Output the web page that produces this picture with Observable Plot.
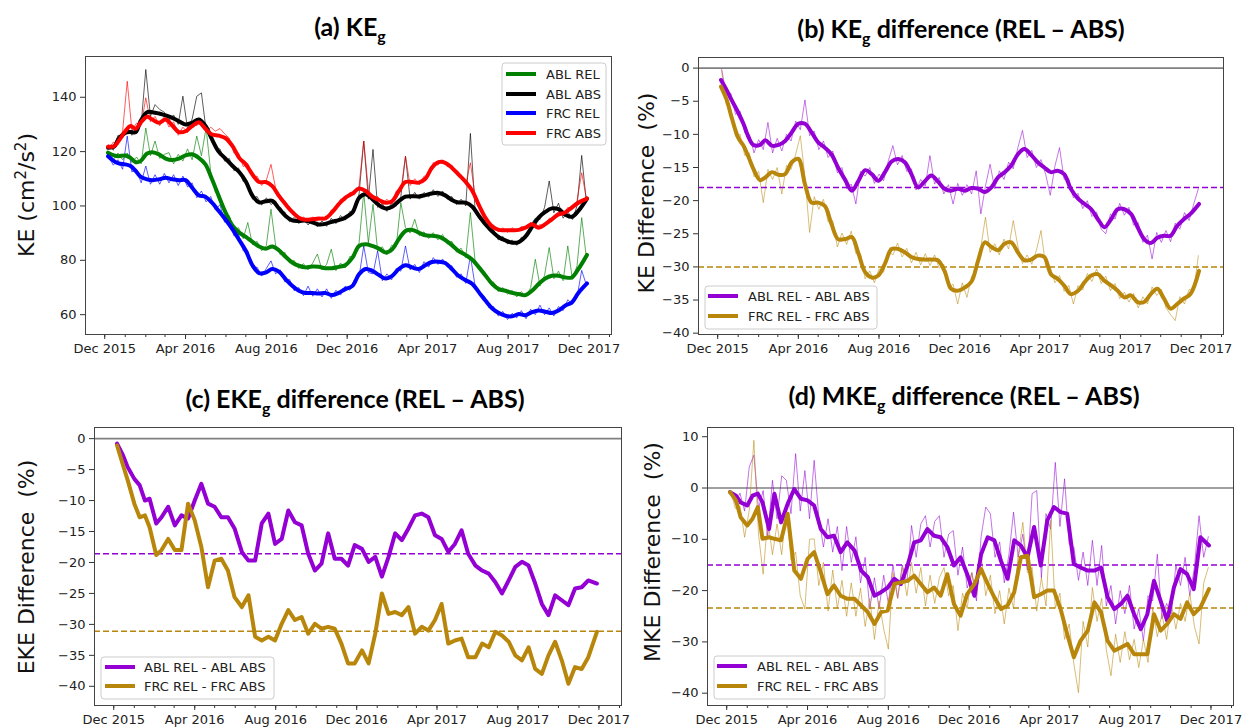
<!DOCTYPE html>
<html><head><meta charset="utf-8">
<script src="https://cdn.jsdelivr.net/npm/d3@7"></script>
<script src="https://cdn.jsdelivr.net/npm/@observablehq/plot@0.6"></script>
<style>
body{margin:0;background:#fff;}
#fig{position:relative;width:1243px;height:728px;overflow:hidden;background:#fff;}
#fig svg.panel{position:absolute;overflow:visible;}
</style></head>
<body><div id="fig"></div>
<script>
// ---------- data ----------
// smoothed (running-mean) series, ~10-day samples
const dates = ["2015-12-06","2015-12-15","2015-12-22","2016-01-01","2016-01-09","2016-01-17","2016-01-24","2016-02-03","2016-02-11","2016-02-21","2016-03-02","2016-03-12","2016-03-22","2016-04-01","2016-04-11","2016-04-21","2016-05-01","2016-05-11","2016-05-21","2016-05-31","2016-06-11","2016-06-21","2016-07-01","2016-07-11","2016-07-21","2016-07-31","2016-08-10","2016-08-20","2016-08-30","2016-09-09","2016-09-19","2016-09-29","2016-10-09","2016-10-19","2016-10-29","2016-11-08","2016-11-18","2016-11-28","2016-12-09","2016-12-19","2016-12-29","2017-01-08","2017-01-18","2017-01-28","2017-02-07","2017-02-17","2017-02-27","2017-03-09","2017-03-19","2017-03-29","2017-04-08","2017-04-18","2017-04-28","2017-05-08","2017-05-18","2017-05-29","2017-06-08","2017-06-18","2017-06-28","2017-07-08","2017-07-18","2017-07-28","2017-08-07","2017-08-17","2017-08-27","2017-09-06","2017-09-16","2017-09-26","2017-10-06","2017-10-16","2017-10-26","2017-11-05","2017-11-15","2017-11-28"];
// raw series, weekly samples starting this date
const rawStart = "2015-12-07";
const rawCount = 104;

// (a) KE_g
const ablRel = [119.6,118.6,118.3,118.6,117.7,116.1,116.5,119.3,119.8,119,117.4,116.9,117.4,118.6,119,117.7,115.3,109.8,103.7,97.8,92.7,90.2,88.6,86.8,85.1,84.3,85.1,83.7,81.3,79.2,78,77.4,77.7,77.6,77.1,77.1,77.6,78.2,
81,85.3,85.9,85.3,84.3,82.9,84.1,87.8,90.8,91.2,90.2,89.2,89,88.7,87.5,85.6,83.5,81.9,80.2,77.4,74.3,71.3,69.4,68.8,68,67.6,67.2,68.8,71.3,73.3,74.3,74.3,73.7,73.7,76.8,82];
const ablAbs = [121.4,121.8,124.7,126.9,127.2,127.2,131.2,134.5,134.5,134,133.3,132.4,131.2,130,130.6,131.8,129.5,124.5,120,117.5,114.7,112.5,109,103.8,101.3,101.7,101.9,99.1,96.3,94.7,94.5,94.6,94,93.2,93.4,94.2,94.8,95.7,
97.6,103,104.3,102.5,100.3,99.1,99.7,101.8,103.4,103.6,103.5,104,104.6,104.8,103.9,102.2,101.3,101.2,99.7,96.3,93.2,90.6,88.5,87.3,86.5,86.7,88.7,92.3,95.7,97.8,99.1,98.8,96.9,96,98.2,102.7];
const frcRel = [118.3,116.5,115.7,115.3,114.7,112.8,110.8,109.8,109.5,109.8,110.4,109.8,109.5,109.5,106.7,103.9,103.4,101.2,98.2,95.1,91.4,87.5,83.5,78.2,75.3,75.5,76.8,75.8,73.1,70.6,68.8,68,68,67.8,68,67.2,68,69.4,
70.6,74.9,76.8,76.1,74.6,73.3,74.3,76.8,78.2,77.4,76.8,78.2,79.4,79.5,79,76.8,74.3,72.7,71.3,68.2,65.1,62.3,60.6,59.6,59.4,60.2,59.8,60.9,61.5,61.1,60.6,61.5,63.3,64.5,68,71.5];
const frcAbs = [121.8,122,123.9,127.5,129.4,128.4,130.6,132.8,131.8,130.6,131.8,129.6,127.2,127.5,129.4,130.8,128.4,126.3,125.9,125,122,117.7,115.3,111.6,108.8,108.8,107.3,103.7,100.6,97.8,95.7,94.9,95.1,95.4,95.4,97.6,100.6,103,
104.6,106.4,105.5,103.4,102.2,101.2,101.8,105.5,108.8,108.8,108.6,110,114.1,116.1,115.9,114.1,111.6,108.8,105.5,100.2,95.5,92.4,91.2,91.1,91.1,91.2,92,93.3,92,93.3,95.1,96.9,97.6,99.4,101.2,102.7];
const ablRelRaw = [120,117,119.5,117,119.5,116,118,115.5,128.7,118.5,123.9,117.5,119,119.6,115.5,119,116.5,121,117,125.7,
118.5,128.7,112.5,105,104,97,96.5,91,92,88,93.9,85.8,87,83.5,85.5,98.8,85.5,82,82.9,79,
80,77,78.8,76.5,79,82.3,76.5,78.5,84.1,76.2,79,77.2,81.5,81,86.5,104.9,86.5,100.6,83.5,85,
82,85.5,85,101.2,92,90,95.1,89,90.5,88,90.2,87.5,89.5,86,87,83,84.5,81,97.6,80,
76.2,76,71.8,72,68.5,70,67.5,69,66.5,68.5,66.5,70,80.4,70.5,74.5,84.7,73.2,76,72.5,85.3,73,78,95.7,81];
const ablAbsRaw = [122.5,120.5,126,125,128.5,126,129,130,150.2,133,137.3,135.5,134.5,131.5,133.5,130,140.4,128.5,132,140.4,
141.6,128,127,121,121,116.5,117.5,113,114,109,108.5,102.5,103.5,100.3,103,100.5,101.8,97.5,97.8,94.2,
95.8,93.5,95.5,93,95,92.3,94.5,92.5,95.5,93.5,96.5,94.8,98,98,104.5,123.9,102.5,120.8,99.5,101,
98,101,100,103.5,118.3,102.5,105,102.5,105,103.3,106,103.5,105.5,102.5,103.5,100.5,102.5,100,126.7,99,
95,94.8,91,91.2,87.5,88.8,86,87.5,85.5,88.5,88,93,95.5,95,99.5,109.2,97.5,101,95.5,98,95,100,118.6,101.5];
const frcRelRaw = [118,115,117,113.5,125.7,112.5,113.5,108.5,114.7,108,111.5,108,112,108.5,111.5,107.5,111,107,108.5,103,
105.5,101.5,103.5,98.5,100.5,94,96,89,89.5,83.5,83.5,77,77.5,74.2,77,79.8,75,76.5,72,73,
68.8,70,67,70.5,66.8,69.5,66.5,69.5,66,69,67.2,70.5,69,73,74,85.3,75.5,75,83.5,72.5,
75,72.8,77,76,85.3,76.5,78.5,75.5,79.5,77.5,81,78.5,80.5,77.5,78,73.8,75,71.5,81.6,70.8,
67,66.8,62.5,63,59.5,61.2,58.2,60.5,58.8,61.5,58.5,62,60,63.5,60,62.5,59.5,63,61.5,65.5,63.8,66.5,76.3,71];
const frcAbsRaw = [121,123.5,122.5,127.5,145.9,127.8,130.5,129.6,139.8,131,133,129.5,133,129,131,126,129,127,131,129.5,
131.5,127,129,127.5,128.5,126.5,125,119.5,119.5,114.5,115.5,110.5,111,107.5,109.5,115.3,106.5,102,101.8,98,
98,94.8,96,94,96,94.5,96,95,98.5,98.5,102.5,102,105,104,107.5,123.9,106,102,103.5,100.5,
102.5,100.5,105.5,105.5,118.3,107.5,110,107.8,111,111,116,115,117,114.5,115,111.5,111.5,108,115.9,104,
99,97.2,93,93,90.5,92,90.3,92,90.5,92.5,91.5,94,91.8,93.2,92.5,95.5,94.8,98,96.5,99.5,98.8,102,112.2,103];

// (b) KE_g difference (%)
const keAbl = [-1.8,-3.4,-4.8,-6.7,-8.4,-10.5,-11.6,-11.6,-10.9,-11.7,-11.6,-11,-9.7,-8.4,-8.4,-9.7,-11.2,-12,-13,-15,-16.9,-18.5,-17,-15.4,-16,-17,-15.7,-14.1,-13.7,-14.2,-16,-18,-17.1,-16.2,-17.1,-18.2,-18.5,-18.2,
-18.5,-18.1,-18.2,-18.7,-18,-16.5,-15.7,-14.7,-13,-12.2,-13.1,-14.2,-15,-15.7,-15.5,-16,-18.2,-19.7,-20.5,-21.3,-22.8,-24,-22.8,-21.3,-21.3,-22,-24,-25.8,-26.4,-25.6,-25.3,-25.3,-23.8,-22.8,-22,-20.5];
const keFrc = [-2.8,-4.9,-7.4,-10.5,-11.7,-13.5,-15.2,-16.9,-16.5,-15.7,-16.1,-16,-14.2,-13.7,-17.5,-20.3,-20.3,-20.8,-23.5,-25.8,-25.8,-25.5,-28,-30.8,-31.6,-31.3,-29.5,-27.3,-27.3,-27.8,-28.5,-28.8,-28.9,-28.9,-29,-30.6,-33.3,-33.6,
-33.1,-32.2,-29,-26.3,-27,-27.5,-26.5,-26.3,-27.8,-29,-28.9,-28.3,-28.5,-31.1,-31.8,-32.8,-34.1,-33.6,-32.3,-31.3,-31.1,-32.1,-32.8,-33.6,-34.6,-34.3,-35.3,-35.3,-34.1,-33.3,-34.8,-36.3,-35.6,-34.8,-34.1,-30.6];
const keAblRaw = [-0.2,-4,-3.8,-7,-6.5,-9.8,-10,-12.8,-10.8,-12.3,-8.2,-12.8,-10.6,-12.5,-10,-11,-8,-9.3,-4.8,-10.2,
-9.5,-12.3,-11,-13.5,-12.5,-15.8,-15,-18.2,-17.5,-20.5,-15.6,-16.3,-15,-17.4,-16,-17,-14,-11.7,-14.6,-13.2,
-15.6,-15.2,-18.4,-16.8,-17.8,-13.2,-17.5,-16.5,-19,-17.6,-20.5,-17.4,-19.2,-17.6,-19,-15.5,-22,-17.8,-14.5,-18.2,
-15.5,-16.8,-14.2,-15.2,-12,-9.4,-13.5,-12.4,-15,-13.8,-16,-19.2,-14.8,-12,-16.8,-16.7,-19.6,-18.9,-21.2,-20,
-22.4,-21.7,-24.3,-25,-22,-22.8,-20.4,-22.2,-21,-23.7,-23.3,-26.3,-25.2,-28.8,-24.8,-26.3,-24.5,-26.2,-23.4,-24.3,-21.8,-23,-20.5,-18.2];
const keFrcRaw = [-0.4,-5.5,-6.2,-10.3,-10,-13.2,-12.8,-16.4,-15.6,-20.3,-15.3,-16.8,-15,-19,-14.7,-15.3,-13,-10.2,-16.5,-24.8,
-19.4,-21.3,-19.8,-23.2,-23,-27,-24.9,-26.6,-24.6,-28,-28,-31.8,-30.6,-32.4,-30.3,-30.8,-27.6,-28.2,-26.4,-28.5,
-27.2,-29.4,-27.8,-29.7,-28,-29.8,-28.2,-30.2,-29.6,-33.2,-32.6,-35.6,-32.4,-34.6,-31.4,-30.9,-27,-22.5,-27.8,-26.5,
-28.2,-25.8,-27.3,-23,-26.9,-29.5,-28.2,-29.6,-27.5,-24.5,-29.9,-30,-32.4,-31.3,-33.7,-32.8,-35.6,-32.8,-33.5,-31,
-32.2,-30.3,-32.5,-31.4,-33.6,-32.5,-34.8,-33.8,-35.3,-34,-36.2,-34.5,-35.6,-33,-34.3,-33.4,-36.2,-37.2,-38.1,-34.5,-35.6,-33.4,-33.5,-28.3];

// (c) EKE_g difference (%)
const ekeAbl = [-0.8,-2.7,-4.6,-6.5,-7.5,-10,-9.7,-13.7,-12.7,-11,-14,-12.4,-12.9,-10,-7.3,-10.5,-11,-12.7,-12.7,-14.5,-18.3,-19.7,-19.7,-13.7,-12.1,-17,-16.2,-11.6,-13.5,-14,-18.6,-21.3,-20.2,-15.3,-19.4,-19.4,-20.5,-17.2,
-17.8,-19.9,-19.1,-22.3,-19.1,-15.3,-16.4,-14.5,-12.4,-12.1,-12.7,-15.6,-16.2,-18.3,-17,-14.8,-18.6,-20.5,-21.3,-21.8,-23.2,-25,-22.9,-20.7,-19.9,-20.5,-23.4,-26.7,-28.5,-25.3,-26.1,-26.9,-24.2,-24,-22.9,-23.4];
const ekeFrc = [-1.1,-4.3,-6.7,-10.5,-12.7,-12.4,-14.3,-18.8,-18,-16.2,-18,-18,-10.5,-13.2,-17.5,-24,-19.7,-19.4,-21.3,-25.6,-27.2,-25.3,-32,-32.6,-32,-32.6,-29.9,-27.7,-29.3,-28.8,-31.5,-29.9,-30.7,-30.4,-30.7,-33.1,-36.3,-36.3,
-34.2,-36.3,-31.5,-25,-28.3,-28,-28.5,-27.2,-31.5,-30.4,-31,-29.3,-26.7,-33.1,-32.6,-32.3,-35.3,-35.3,-33.1,-33.7,-31.2,-31.8,-32.8,-35,-35.8,-33.7,-37.2,-38,-35,-32.8,-35.8,-39.6,-36.9,-37.2,-35.3,-31.2];

// (d) MKE_g difference (%)
const mkeAbl = [-0.8,-1.5,-2.8,-3.4,-1.5,-1.1,-2.8,-8,-1.1,-6.7,-3.1,-0.2,-2.1,-2.4,-3.4,-8,-9.6,-9.3,-12.5,-10.6,-12.2,-16.1,-17.4,-21,-20.3,-19.4,-17.7,-18.7,-15.1,-10.6,-10.2,-8,-9.3,-9.6,-11.5,-15.1,-13.5,-16.8,
-21,-12.9,-9.6,-10.2,-14.2,-17.7,-10.2,-11.2,-13.5,-7.6,-15.1,-6.3,-3.7,-4.7,-5,-14.8,-15.5,-16.1,-16.1,-15.5,-21.3,-23.6,-22.6,-21,-24.6,-27.5,-24.6,-18.1,-22,-25.9,-19.4,-15.8,-16.8,-19.7,-9.6,-11.2];
const mkeFrc = [-0.8,-2.4,-5.7,-7.3,-6,-3.7,-9.9,-9.6,-9.9,-10.2,-5,-16.1,-17.7,-13.8,-12.5,-16.4,-20.7,-19,-21,-21.6,-21.6,-22.9,-24.2,-26.5,-24.2,-23.9,-18.7,-18.4,-18.1,-17.1,-18.7,-20.3,-19.4,-21,-16.8,-22.6,-24.9,-20.7,
-18.7,-15.8,-18.7,-21.3,-23.6,-22.9,-20.3,-13.5,-13.2,-21.3,-20.7,-20,-20,-23.6,-28.5,-33,-29.8,-27.8,-22.3,-24.2,-29.8,-31.7,-31.1,-30.4,-32.4,-32.4,-32.4,-24.6,-27.8,-26.5,-24.6,-25.5,-22.3,-24.6,-23.3,-19.7];
const mkeAblRaw = [-0.5,-3,-1,-4.5,4.1,6.4,-4,-0.5,-9.5,1.5,-6,2.4,1.5,-5,6.7,-4.5,3.4,-6,5.4,-5.7,
-11.5,-6,-12.5,-7.5,-16.1,-7.5,-14.5,-9.5,-18.5,-13.5,-23.6,-17.5,-23.5,-17,-22.5,-15,-21.5,-15,-18.5,-7.3,
-13.5,-7,-5.4,-11.5,-6.5,-5.4,-13.5,-9,-8.3,-17,-11.5,-19.5,-16.5,-22,-9.5,-3.7,-5,-13.5,-10.5,-18.5,
-13,-4.7,-13.5,-9,-16,-1.1,-0.5,-17.5,-5,-8,5,-7.5,1.8,-11,-11.5,-18,-12.5,-19,-10.2,-19,
-11.2,-23,-19,-26.5,-20,-24.5,-19,-27.5,-23.5,-29.8,-21,-22,-12.9,-25.5,-22.5,-24.5,-15,-19,-13.5,-21,-15.5,-5.4,-13.5,-9.5];
const mkeFrcRaw = [-0.5,-4,-3.5,-9.6,-4.4,9.3,-9,-16.8,-6,-13,-7,-13,-3.7,-14,-12.5,-21,-23.6,-10,-9.9,-19,
-14.5,-24,-16,-23.5,-18,-25,-18.5,-25,-19.5,-27,-21.5,-29.5,-22,-27.5,-31.4,-16.5,-21.5,-15.5,-21,-14.5,
-20.5,-15.5,-23,-17,-22.5,-17.5,-15.5,-21,-19,-27.8,-20.5,-23.5,-16.5,-21,-13,-21,-17,-24.5,-20,-26.5,
-19.5,-23.5,-13,-6.7,-16.5,-15.5,-24,-17.5,-23,-6.3,-23.5,-20.5,-29.5,-26.5,-34.3,-39.9,-26,-31,-19.4,-26,
-21.5,-31.5,-36.6,-28.5,-34,-28,-33.5,-29.5,-35,-29.5,-34,-23.3,-29,-24.5,-29.5,-22.5,-27.5,-22.5,-26,-20.5,-27,-30.4,-18.5,-15.5];

// mean levels (dashed lines)
const meanABL = {b: -18, c: -18.6, d: -15};
const meanFRC = {b: -30, c: -31.1, d: -23.4};

// axis ticks and labels
const xTickLabels = ["2015-12-01","2016-04-01","2016-08-01","2016-12-01","2017-04-01","2017-08-01","2017-12-01"];
const yTicksA = [60, 80, 100, 120, 140];
const yTicksBC = [0, -5, -10, -15, -20, -25, -30, -35, -40];
const yTicksD = [10, 0, -10, -20, -30, -40];
const legendA = ["ABL REL", "ABL ABS", "FRC REL", "FRC ABS"];
const legendDiff = ["ABL REL - ABL ABS", "FRC REL - FRC ABS"];

// ---------- rendering ----------
const C = {green:"#008000", black:"#000000", blue:"#0000ff", red:"#ff0000", purple:"#9400d3", gold:"#b8860b"};
const xDomain = [new Date("2015-11-02"), new Date("2018-01-04")];
const minorTicks = d3.utcMonth.range(new Date("2015-11-01"), new Date("2018-01-05")).filter(d => d >= xDomain[0] && d <= xDomain[1]);
const majorTicks = xTickLabels.map(d => new Date(d));
const rawDates = d3.range(rawCount).map(i => d3.utcDay.offset(new Date(rawStart), 7 * i));
const fmtY = d => d < 0 ? "\u2212" + Math.abs(d) : String(d);
const rows = arr => dates.map((d, i) => ({date: new Date(d), value: arr[i]}));
const rawRows = arr => rawDates.map((d, i) => ({date: d, value: arr[i]}));
const fig = document.getElementById("fig");

function panel(cfg) {
  const marks = [
    Plot.axisX({ticks: minorTicks, tickSize: 3, tickFormat: () => "", stroke: "#333", label: null}),
    Plot.axisX({ticks: majorTicks, tickSize: 5, tickPadding: 4, tickFormat: d3.utcFormat("%b %Y"), fontSize: 13, stroke: "#333", label: null}),
    Plot.axisY({ticks: cfg.yTicks, tickSize: 5, tickPadding: 4, tickFormat: fmtY, fontSize: 13, stroke: "#333", label: null})
  ];
  if (cfg.zero) marks.push(Plot.ruleY([0], {stroke: "#808080", strokeWidth: 1.6}));
  cfg.series.forEach(s => { if (s.raw) marks.push(Plot.line(rawRows(s.raw), {x: "date", y: "value", stroke: s.c, strokeWidth: cfg.rawW, strokeOpacity: cfg.rawO})); });
  if (cfg.means) cfg.means.forEach(m => marks.push(Plot.ruleY([m.v], {stroke: m.c, strokeWidth: 1.5, strokeDasharray: "6,3"})));
  cfg.series.forEach(s => marks.push(Plot.line(rows(s.data), {x: "date", y: "value", stroke: s.c, strokeWidth: 4, curve: cfg.curve})));
  marks.push(Plot.frame({stroke: "#444", strokeWidth: 1}));
  const svg = Plot.plot({
    width: cfg.w, height: cfg.h,
    marginLeft: cfg.mL, marginRight: cfg.mR, marginTop: cfg.mT, marginBottom: cfg.mB,
    x: {type: "utc", domain: xDomain},
    y: {domain: cfg.yDomain},
    style: {fontFamily: "DejaVu Sans, sans-serif", color: "#222", background: "transparent", overflow: "visible"},
    marks
  });
  svg.classList.add("panel");
  svg.style.left = cfg.left + "px";
  svg.style.top = cfg.top + "px";
  fig.appendChild(svg);
}

panel({left: 0, top: 0, w: 620, h: 370, mL: 85, mR: 9, mT: 56, mB: 36, yDomain: [52.7, 155], yTicks: yTicksA, curve: "catmull-rom", rawW: 0.8, rawO: 0.8,
  series: [{data: ablRel, raw: ablRelRaw, c: C.green}, {data: ablAbs, raw: ablAbsRaw, c: C.black}, {data: frcRel, raw: frcRelRaw, c: C.blue}, {data: frcAbs, raw: frcAbsRaw, c: C.red}]});
panel({left: 620, top: 0, w: 623, h: 370, mL: 78, mR: 20, mT: 57, mB: 36, yDomain: [-40.2, 1.6], yTicks: yTicksBC, curve: "catmull-rom", zero: true, rawW: 0.9, rawO: 0.6,
  means: [{v: meanABL.b, c: C.purple}, {v: meanFRC.b, c: C.gold}],
  series: [{data: keAbl, raw: keAblRaw, c: C.purple}, {data: keFrc, raw: keFrcRaw, c: C.gold}]});
panel({left: 0, top: 370, w: 630, h: 358, mL: 94, mR: 9, mT: 57, mB: 23, yDomain: [-43.1, 1.8], yTicks: yTicksBC, curve: "linear", zero: true,
  means: [{v: meanABL.c, c: C.purple}, {v: meanFRC.c, c: C.gold}],
  series: [{data: ekeAbl, c: C.purple}, {data: ekeFrc, c: C.gold}]});
panel({left: 620, top: 370, w: 623, h: 358, mL: 87, mR: 10, mT: 57, mB: 23, yDomain: [-42.4, 11.8], yTicks: yTicksD, curve: "linear", zero: true, rawW: 1, rawO: 0.55,
  means: [{v: meanABL.d, c: C.purple}, {v: meanFRC.d, c: C.gold}],
  series: [{data: mkeAbl, raw: mkeAblRaw, c: C.purple}, {data: mkeFrc, raw: mkeFrcRaw, c: C.gold}]});

// ---------- overlay: titles, axis labels, legends ----------
const ov = d3.select(fig).append("svg").attr("width", 1243).attr("height", 728)
  .style("position", "absolute").style("left", 0).style("top", 0).style("pointer-events", "none");

const titles = [
  {x: 350, y: 36, pre: "(a) KE", post: ""},
  {x: 961, y: 38, pre: "(b) KE", post: " difference (REL \u2013 ABS)"},
  {x: 355, y: 408, pre: "(c) EKE", post: " difference (REL \u2013 ABS)"},
  {x: 964, y: 405, pre: "(d) MKE", post: " difference (REL \u2013 ABS)"}
];
titles.forEach(t => {
  const el = ov.append("text").attr("x", t.x).attr("y", t.y).attr("text-anchor", "middle")
    .attr("font-family", "Lato, 'Open Sans', sans-serif").attr("font-weight", 700).attr("font-size", 25).attr("fill", "#000");
  el.append("tspan").text(t.pre);
  el.append("tspan").attr("font-size", 16).attr("dy", 6).text("g");
  el.append("tspan").attr("dy", -6).text(t.post);
});

const ylabs = [
  {x: 34, y: 195, parts: [["KE (cm", 0], ["2", 1], ["/s", 0], ["2", 1], [")", 0]]},
  {x: 654, y: 193, parts: [["KE Difference  (%)", 0]]},
  {x: 34, y: 567, parts: [["EKE Difference  (%)", 0]]},
  {x: 660, y: 552, parts: [["MKE Difference  (%)", 0]]}
];
ylabs.forEach(l => {
  const el = ov.append("text").attr("transform", `translate(${l.x},${l.y}) rotate(-90)`).attr("text-anchor", "middle")
    .attr("font-family", "DejaVu Sans, sans-serif").attr("font-size", 22).attr("fill", "#111").style("white-space", "pre");
  let prev = 0;
  l.parts.forEach(([s, sup]) => {
    const dy = sup ? -8 : (prev ? 8 : 0);
    el.append("tspan").attr("dy", dy).attr("font-size", sup ? 15 : 22).text(s);
    prev = sup;
  });
});

function legend(box, labels, colors, ys) {
  ov.append("rect").attr("x", box.x).attr("y", box.y).attr("width", box.w).attr("height", box.h)
    .attr("rx", 3).attr("fill", "rgba(255,255,255,0.85)").attr("stroke", "#cccccc");
  labels.forEach((lab, i) => {
    ov.append("line").attr("x1", box.lx).attr("x2", box.lx + 30).attr("y1", ys[i]).attr("y2", ys[i])
      .attr("stroke", colors[i]).attr("stroke-width", 4);
    ov.append("text").attr("x", box.tx).attr("y", ys[i] + 4.5).attr("font-family", "DejaVu Sans, sans-serif")
      .attr("font-size", 13).attr("fill", "#222").text(lab);
  });
}
legend({x: 502, y: 63, w: 104, h: 82, lx: 506, tx: 546}, legendA, [C.green, C.black, C.blue, C.red], [74, 94, 113, 133]);
legend({x: 705, y: 286, w: 172, h: 43, lx: 708, tx: 748}, legendDiff, [C.purple, C.gold], [296, 316]);
legend({x: 101, y: 657, w: 173, h: 42, lx: 105, tx: 144}, legendDiff, [C.purple, C.gold], [667, 686]);
legend({x: 714, y: 656, w: 171, h: 43, lx: 717, tx: 757}, legendDiff, [C.purple, C.gold], [666, 686]);
</script>
</body></html>
